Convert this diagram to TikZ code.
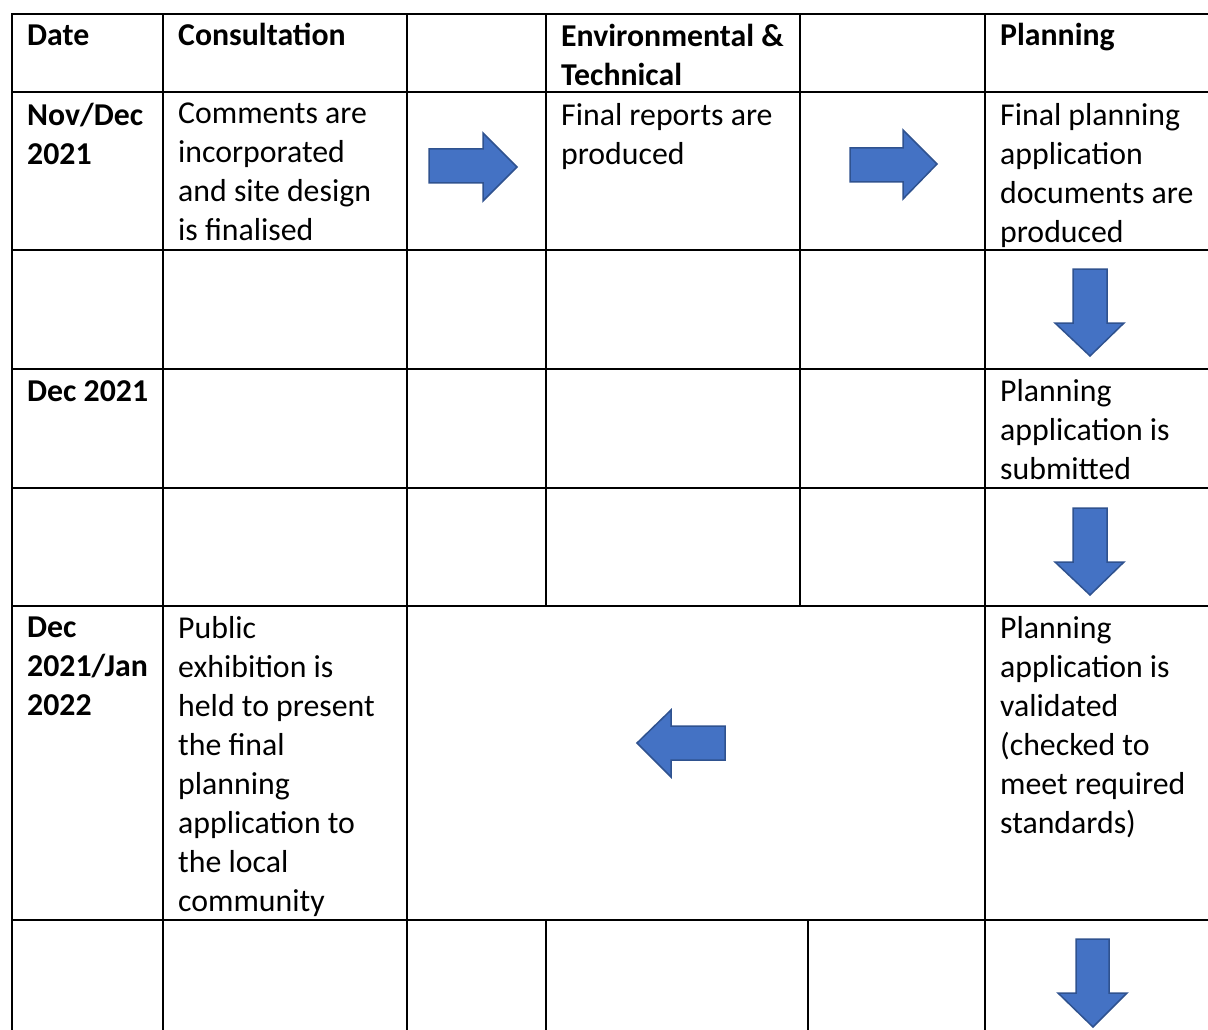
\documentclass[tikz,border=0pt]{standalone}
\usepackage{fontspec}
\setmainfont{Carlito}
\definecolor{arrowblue}{RGB}{68,114,196}
\definecolor{arrowedge}{RGB}{47,82,143}
\begin{document}
\begin{tikzpicture}[x=1pt, y=-1pt,
  every node/.style={font=\fontsize{31.8}{39}\selectfont},
  rule/.style={line width=2.2pt, line cap=rect},
  cell/.style={anchor=north west, align=left, inner sep=0pt, execute at begin node=\strut},
  head/.style={cell, font=\fontsize{31.8}{39}\selectfont\bfseries},
  blockarrow/.style={fill=arrowblue, draw=arrowedge, line width=1.5pt}]
  \useasboundingbox (0,0) rectangle (1208,1030);
  \clip (0,0) rectangle (1208,1030);

  % table rules
  \foreach \y in {14,92,250,369,488,606,920}
    \draw[rule] (12,\y) -- (1230,\y);
  \foreach \x in {12,163,407,985}
    \draw[rule] (\x,14) -- (\x,1050);
  \draw[rule] (546,14) -- (546,606);
  \draw[rule] (800,14) -- (800,606);
  \draw[rule] (546,920) -- (546,1050);
  \draw[rule] (808,920) -- (808,1050);

  % header row
  \node[head] (date) at (27,18.2) {Date};
  \node[head] (consult) at (178,18.2) {Consultation};
  \node[head] (envtech) at (561,24) {Environmental \&\\Technical};
  \node[head] (planning) at (1000,18.2) {Planning};

  % Nov/Dec 2021
  \node[head] (novdec) at (27,103) {Nov/Dec\\2021};
  \node[cell] (comments) at (178,103) {Comments are\\incorporated\\and site design\\is finalised};
  \node[cell] (reports) at (561,103) {Final reports are\\produced};
  \node[cell] (finaldocs) at (1000,103) {Final planning\\application\\documents are\\produced};

  % Dec 2021
  \node[head] (dec) at (27,373.5) {Dec 2021};
  \node[cell] (submitted) at (1000,379.5) {Planning\\application is\\submitted};

  % Dec 2021/Jan 2022
  \node[head] (decjan) at (27,616.5) {Dec\\2021/Jan\\2022};
  \node[cell] (exhibition) at (178,616.5) {Public\\exhibition is\\held to present\\the final\\planning\\application to\\the local\\community};
  \node[cell] (validated) at (1000,616.5) {Planning\\application is\\validated\\(checked to\\meet required\\standards)};

  % right arrows
  \draw[blockarrow] (429,149) -- (483,149) -- (483,133) -- (517,167)
    -- (483,201) -- (483,183) -- (429,183) -- cycle;
  \draw[blockarrow] (850,148) -- (903,148) -- (903,130) -- (937,164)
    -- (903,199) -- (903,182) -- (850,182) -- cycle;

  % down arrows
  \draw[blockarrow] (1073,269) -- (1107,269) -- (1107,323) -- (1124,323)
    -- (1090,356) -- (1055,323) -- (1073,323) -- cycle;
  \draw[blockarrow] (1073,508) -- (1107,508) -- (1107,562) -- (1124,562)
    -- (1090,595) -- (1055,562) -- (1073,562) -- cycle;
  \draw[blockarrow] (1076,939) -- (1109,939) -- (1109,993) -- (1127,993)
    -- (1093,1027) -- (1058,993) -- (1076,993) -- cycle;

  % left arrow
  \draw[blockarrow] (725,726) -- (671,726) -- (671,710) -- (637,743)
    -- (671,777) -- (671,760) -- (725,760) -- cycle;
\end{tikzpicture}
\end{document}
